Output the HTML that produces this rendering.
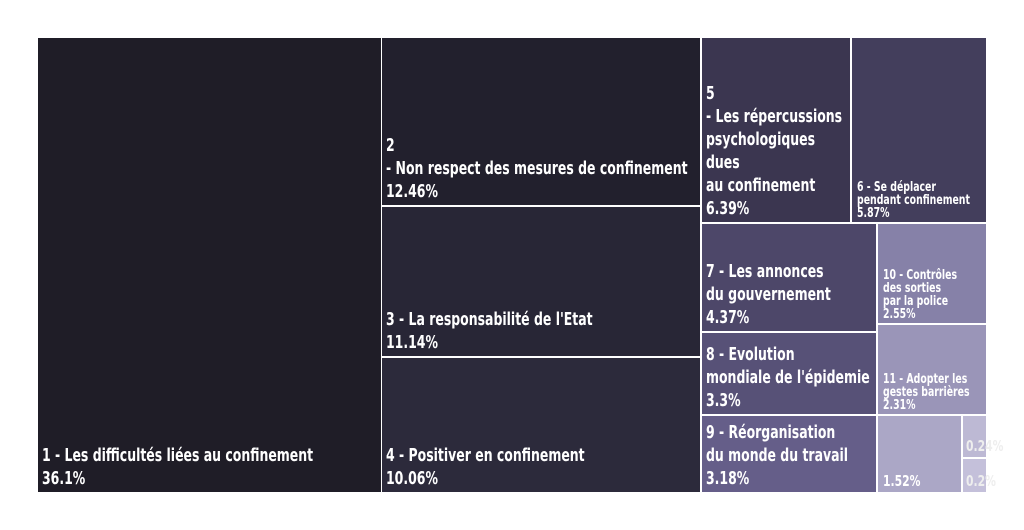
<!DOCTYPE html>
<html><head><meta charset="utf-8"><style>
body{margin:0;width:1024px;height:530px;background:#fff;overflow:hidden;position:relative;font-family:"DejaVu Sans Condensed","Liberation Sans",sans-serif;font-weight:bold;color:#fff}
.r{position:absolute;box-sizing:border-box;overflow:visible}
.t{position:absolute;left:4px;bottom:2px;font-size:18px;line-height:23px;white-space:nowrap;transform:scaleX(0.77);transform-origin:left bottom}
.s{position:absolute;left:5px;bottom:2px;font-size:13px;line-height:13px;white-space:nowrap;transform:scaleX(0.8);transform-origin:left bottom}
</style></head><body>
<div class="r" style="left:38px;top:38px;width:343px;height:454px;background:#1f1d27"><div class="t">1 - Les difficultés liées au confinement<br>36.1%</div></div>
<div class="r" style="left:382px;top:38px;width:318px;height:167px;background:#22202d"><div class="t">2<br>- Non respect des mesures de confinement<br>12.46%</div></div>
<div class="r" style="left:382px;top:207px;width:318px;height:149px;background:#282636"><div class="t">3 - La responsabilité de l'Etat<br>11.14%</div></div>
<div class="r" style="left:382px;top:358px;width:318px;height:134px;background:#2c2a3b"><div class="t">4 - Positiver en confinement<br>10.06%</div></div>
<div class="r" style="left:702px;top:38px;width:148px;height:184px;background:#3b3650"><div class="t">5<br>- Les répercussions<br>psychologiques<br>dues<br>au confinement<br>6.39%</div></div>
<div class="r" style="left:852px;top:38px;width:134px;height:184px;background:#433e5c"><div class="s">6 - Se déplacer<br>pendant confinement<br>5.87%</div></div>
<div class="r" style="left:702px;top:224px;width:174px;height:107px;background:#4d4769"><div class="t">7 - Les annonces<br>du gouvernement<br>4.37%</div></div>
<div class="r" style="left:702px;top:333px;width:174px;height:81px;background:#575177"><div class="t">8 - Evolution<br>mondiale de l'épidemie<br>3.3%</div></div>
<div class="r" style="left:702px;top:416px;width:174px;height:76px;background:#655e89"><div class="t">9 - Réorganisation<br>du monde du travail<br>3.18%</div></div>
<div class="r" style="left:878px;top:224px;width:108px;height:99px;background:#8681a8"><div class="s">10 - Contrôles<br>des sorties<br>par la police<br>2.55%</div></div>
<div class="r" style="left:878px;top:325px;width:108px;height:89px;background:#9a95b8"><div class="s">11 - Adopter les<br>gestes barrières<br>2.31%</div></div>
<div class="r" style="left:878px;top:416px;width:83px;height:76px;background:#aba7c6"><div class="s" style="font-size:15px;line-height:18px">1.52%</div></div>
<div class="r" style="left:963px;top:416px;width:23px;height:41px;background:#bdb9d4"><div class="s" style="left:3px;color:#eee;font-size:15px;line-height:18px">0.24%</div></div>
<div class="r" style="left:963px;top:459px;width:23px;height:33px;background:#c4c0da"><div class="s" style="left:3px;color:#eee;font-size:15px;line-height:18px">0.2%</div></div>
</body></html>
